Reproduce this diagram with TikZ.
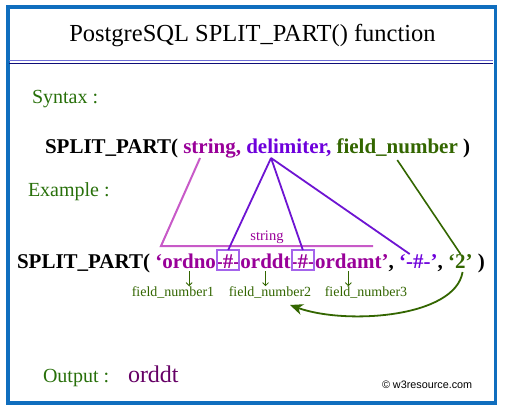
\documentclass[tikz,border=0pt]{standalone}
\usepackage{fontspec}
\setmainfont{Liberation Serif}
\newfontfamily\crfont{Liberation Sans}
\usetikzlibrary{arrows.meta,calc}
\definecolor{frameblue}{RGB}{16,110,190}
\definecolor{navy}{RGB}{15,15,120}
\definecolor{lineblue}{RGB}{110,110,215}
\definecolor{lblgreen}{RGB}{40,112,10}
\definecolor{fgreen}{RGB}{51,102,0}
\definecolor{strmag}{RGB}{153,0,153}
\definecolor{strline}{RGB}{200,90,200}
\definecolor{delviol}{RGB}{110,0,220}
\definecolor{delline}{RGB}{110,20,210}
\definecolor{boxviol}{RGB}{165,100,235}
\definecolor{outpurp}{RGB}{102,0,102}
\begin{document}
\begin{tikzpicture}[x=1pt,y=-1pt,
  txt/.style={inner sep=0pt,outer sep=0pt,anchor=base west},
  big/.style={font=\fontsize{21}{25}\selectfont\bfseries},
  lbl/.style={inner sep=0pt,outer sep=0pt,anchor=base west,text=lblgreen,font=\fontsize{20}{24}\selectfont},
  fnlbl/.style={inner sep=0pt,outer sep=0pt,anchor=base,text=fgreen,font=\fontsize{14}{17}\selectfont},
  hashbox/.style={draw=boxviol,line width=1.8pt},
  strconn/.style={draw=strline,line width=2pt},
  delconn/.style={draw=delline,line width=1.8pt},
  fnconn/.style={draw=fgreen,line width=1.6pt},
  fnarrow/.style={draw=fgreen,line width=0.8pt,-{Straight Barb[length=3pt,width=6pt]}},
  curvearrow/.style={draw=fgreen,line width=1.8pt,-{Stealth[length=13pt,width=11pt,inset=4pt]}}
]
\useasboundingbox (0,0) rectangle (506,412);
\fill[white] (0,0) rectangle (506,412);
% frame
\draw[frameblue,line width=3.3pt] (8,7) rectangle (495.5,403);
% title
\node[inner sep=0pt,anchor=base,font=\fontsize{24.5}{29}\selectfont] (title) at (252.5,42) {PostgreSQL SPLIT\_PART() function};
\draw[lineblue,line width=1.3pt] (9,60.5) -- (493,60.5);
\draw[navy,line width=1.5pt] (9,63.5) -- (493,63.5);
% labels
\node[lbl] (synlbl) at (32,103) {Syntax :};
\node[lbl] (exlbl) at (28,196) {Example :};
\node[lbl] (outlbl) at (43,382) {Output :};
\node[txt,text=outpurp,font=\fontsize{24}{29}\selectfont] (outval) at (128,382) {orddt};
% syntax line
\node[txt,big] (sy1) at (45,153) {SPLIT\_PART(};
\node[txt,big,text=strmag] (sy2) at (sy1.base east) {\ string,};
\node[txt,big,text=delviol] (sy3) at (sy2.base east) {\ delimiter,};
\node[txt,big,text=fgreen] (sy4) at (sy3.base east) {\ field\_number};
\node[txt,big] (sy5) at (sy4.base east) {\ )};
% example line
\node[txt,big] (ex1) at (17,268) {SPLIT\_PART(};
\node[txt,big,text=strmag] (q1) at (ex1.base east) {\ ‘};
\node[txt,big,text=strmag] (w1) at (q1.base east) {ordno};
\node[txt,big,text=strmag] (d1) at (w1.base east) {-};
\node[txt,big,text=strmag] (h1) at (d1.base east) {\#};
\node[txt,big,text=strmag] (d2) at (h1.base east) {-};
\node[txt,big,text=strmag] (w2) at (d2.base east) {orddt};
\node[txt,big,text=strmag] (d3) at (w2.base east) {-};
\node[txt,big,text=strmag] (h2) at (d3.base east) {\#};
\node[txt,big,text=strmag] (d4) at (h2.base east) {-};
\node[txt,big,text=strmag] (w3) at (d4.base east) {ordamt};
\node[txt,big,text=strmag] (q2) at (w3.base east) {’};
\node[txt,big] (c1) at (q2.base east) {,};
\node[txt,big,text=delviol] (ex6) at (c1.base east) {\ ‘-\#-’};
\node[txt,big] (c2) at (ex6.base east) {,};
\node[txt,big,text=fgreen] (ex8) at (c2.base east) {\ ‘2’};
\node[txt,big] (ex9) at (ex8.base east) {\ )};
% hash boxes
\draw[hashbox] ($(h1.base)+(-11,2)$) rectangle ($(h1.base)+(11,-18)$);
\draw[hashbox] ($(h2.base)+(-11,2)$) rectangle ($(h2.base)+(11,-18)$);
\coordinate (b1top) at ($(h1.base)+(0,-18)$);
\coordinate (b2top) at ($(h2.base)+(0,-18)$);
% string connector
\coordinate (strA) at ($(sy2.base west)+(22,5)$);
\coordinate (strL) at (161,246);
\coordinate (strR) at (373,246);
\draw[strconn] (strA) -- (strL) -- (strR);
\node[fnlbl,text=strmag,font=\fontsize{14.5}{17}\selectfont] (strlbl) at (267,240) {string};
% delimiter connectors
\coordinate (delA) at ($(sy3.base west)+(30,5)$);
\draw[delconn] (delA) -- (b1top);
\draw[delconn] (delA) -- (b2top);
\draw[delconn] (delA) -- ($(ex6.north)+(-6,0)$);
% field number connector
\coordinate (fnA) at ($(sy4.base west)+(66,7)$);
\draw[fnconn] (fnA) -- ($(ex8.north east)+(-12,0)$);
% field labels
\node[fnlbl] (fn1) at (173,296) {field\_number1};
\node[fnlbl] (fn2) at (270,296) {field\_number2};
\node[fnlbl] (fn3) at (366,296) {field\_number3};
\draw[fnarrow] ($(w1.base)+(0,3)$) -- (w1.base |- fn1.north);
\draw[fnarrow] ($(w2.base)+(0,3)$) -- (w2.base |- fn2.north);
\draw[fnarrow] ($(w3.base)+(0,3)$) -- (w3.base |- fn3.north);
% curved arrow
\coordinate (carr) at (290,305);
\draw[curvearrow] ($(ex8.south east)+(-10,4)$) .. controls (455,318) and (345,325) .. (carr);
% copyright
\node[txt,font=\crfont\fontsize{10.8}{13}\selectfont] (copy) at (382,388) {© w3resource.com};
\end{tikzpicture}
\end{document}
